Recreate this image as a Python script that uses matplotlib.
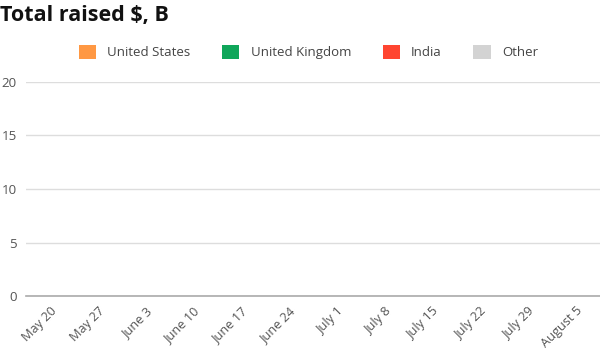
import matplotlib
matplotlib.use('Agg')
from matplotlib import pyplot as plt
import numpy as np

plt.rcParams['font.family'] = ['Open Sans', 'DejaVu Sans']

# weekly totals raised ($B) - the chart shows no bars yet
weeks = ['May 20', 'May 27', 'June 3', 'June 10', 'June 17', 'June 24',
         'July 1', 'July 8', 'July 15', 'July 22', 'July 29', 'August 5']
us = [0, 0, 0, 0, 0, 0, 0, 0, 0, 0, 0, 0]
uk = [0, 0, 0, 0, 0, 0, 0, 0, 0, 0, 0, 0]
india = [0, 0, 0, 0, 0, 0, 0, 0, 0, 0, 0, 0]
other = [0, 0, 0, 0, 0, 0, 0, 0, 0, 0, 0, 0]
series_names = ['United States', 'United Kingdom', 'India', 'Other']
colors = ['#FF9843', '#0FA65A', '#FF4530', '#D3D3D3']

fig = plt.figure(figsize=(6, 3.5), dpi=100)
fig.patch.set_facecolor('white')
ax = fig.add_axes([26/600, (350-296)/350, 574/600, (296-82)/350])

x = np.arange(len(weeks))
bottom = np.zeros(len(weeks))
handles = []
for vals, name, c in zip([us, uk, india, other], series_names, colors):
    b = ax.bar(x, vals, width=0.6, bottom=bottom, color=c, label=name)
    bottom += np.array(vals)
    handles.append(b)

ax.set_xlim(-0.5, len(weeks) - 0.5)
ax.set_ylim(0, 20)
ax.set_yticks([0, 5, 10, 15, 20])
ax.set_xticks(x)
ax.set_xticklabels(weeks, rotation=45, ha='right', rotation_mode='anchor')
ax.tick_params(axis='both', length=0, labelsize=9.6, labelcolor='#555555')
ax.tick_params(axis='x', labelsize=9.2)
ax.tick_params(axis='y', pad=6.5)
ax.tick_params(axis='x', pad=6)
ax.grid(axis='y', color='#DDDDDD', linewidth=1)
ax.set_axisbelow(True)
for s in ['top', 'right', 'left']:
    ax.spines[s].set_visible(False)
ax.spines['bottom'].set_color('#AAAAAA')
ax.spines['bottom'].set_linewidth(1.2)

fig.text(0.0, 1 - 16/350, 'Total raised $, B', fontsize=15.5, fontweight='bold',
         va='center', ha='left', color='#111111')

leg = fig.legend(handles=handles, labels=series_names, ncol=4, frameon=False,
                 loc='center left', bbox_to_anchor=(67/600, 1 - 52/350),
                 fontsize=9.5, handlelength=1.3, handleheight=1.3,
                 handletextpad=0.85, columnspacing=2.4)
for t in leg.get_texts():
    t.set_color('#444444')

plt.savefig('out.png', dpi=100)
